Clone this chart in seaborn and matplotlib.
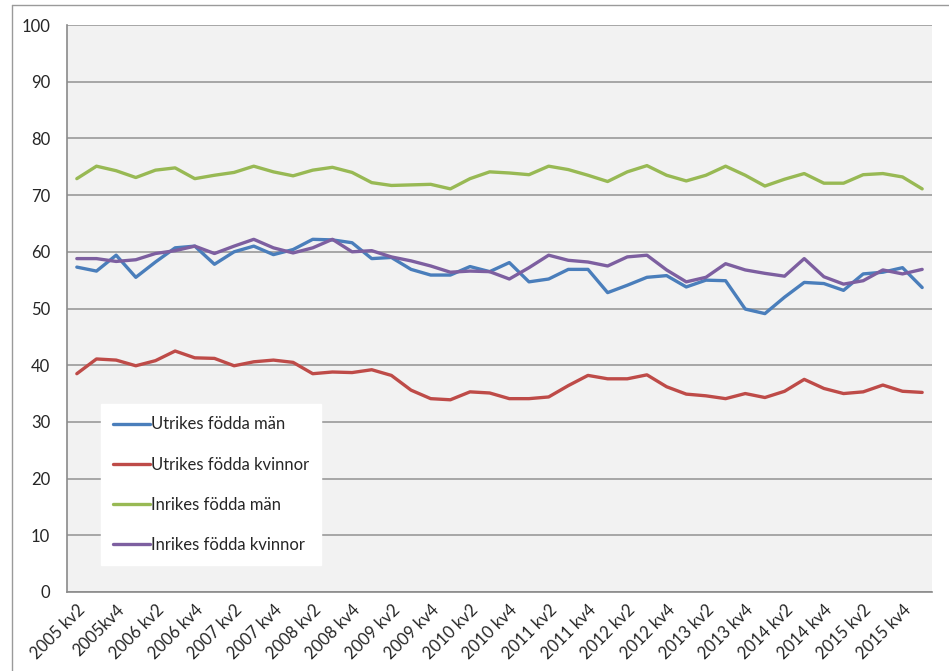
import pandas as pd
import numpy as np
import matplotlib
matplotlib.use('Agg')
import matplotlib.pyplot as plt
import matplotlib.lines as mlines
import seaborn as sns

# Quarters 2005 kv2 .. 2016 kv1 (44 points), label every second
quarters = [f'{y} kv{q}' for y in range(2005, 2017) for q in range(1, 5)][1:45]
tick_labels = ['2005 kv2', '2005kv4', '2006 kv2', '2006 kv4', '2007 kv2', '2007 kv4',
               '2008 kv2', '2008 kv4', '2009 kv2', '2009 kv4', '2010 kv2', '2010 kv4',
               '2011 kv2', '2011 kv4', '2012 kv2', '2012 kv4', '2013 kv2', '2013 kv4',
               '2014 kv2', '2014 kv4', '2015 kv2', '2015 kv4']

utrikes_man = [57.3, 56.6, 59.4, 55.5, 58.2, 60.7, 61.0, 57.8, 60.0, 61.0, 59.5,
               60.4, 62.2, 62.1, 61.6, 58.8, 59.0, 56.9, 55.9, 55.9, 57.4, 56.5,
               58.1, 54.7, 55.2, 56.9, 56.9, 52.8, 54.1, 55.5, 55.8, 53.8, 55.0,
               54.9, 49.9, 49.1, 52.0, 54.6, 54.4, 53.2, 56.1, 56.4, 57.2, 53.7]
utrikes_kvinnor = [38.5, 41.1, 40.9, 39.9, 40.8, 42.5, 41.3, 41.2, 39.9, 40.6, 40.9,
                   40.5, 38.5, 38.8, 38.7, 39.2, 38.2, 35.6, 34.1, 33.9, 35.3, 35.1,
                   34.1, 34.1, 34.4, 36.4, 38.2, 37.6, 37.6, 38.3, 36.2, 34.9, 34.6,
                   34.1, 35.0, 34.3, 35.4, 37.5, 35.9, 35.0, 35.3, 36.5, 35.4, 35.2]
inrikes_man = [72.9, 75.1, 74.3, 73.1, 74.4, 74.8, 72.9, 73.5, 74.0, 75.1, 74.1,
               73.4, 74.4, 74.9, 74.0, 72.2, 71.7, 71.8, 71.9, 71.1, 72.9, 74.1,
               73.9, 73.6, 75.1, 74.5, 73.5, 72.4, 74.1, 75.2, 73.5, 72.5, 73.5,
               75.1, 73.5, 71.6, 72.8, 73.8, 72.1, 72.1, 73.6, 73.8, 73.2, 71.1]
inrikes_kvinnor = [58.8, 58.8, 58.3, 58.6, 59.7, 60.2, 61.0, 59.7, 61.0, 62.2, 60.7,
                   59.8, 60.7, 62.2, 60.0, 60.2, 59.1, 58.4, 57.5, 56.4, 56.6, 56.5,
                   55.2, 57.2, 59.4, 58.5, 58.2, 57.5, 59.1, 59.4, 56.8, 54.7, 55.5,
                   57.9, 56.8, 56.2, 55.7, 58.8, 55.6, 54.3, 54.9, 56.8, 56.1, 56.9]

series = {
    'Utrikes födda män': utrikes_man,
    'Utrikes födda kvinnor': utrikes_kvinnor,
    'Inrikes födda män': inrikes_man,
    'Inrikes födda kvinnor': inrikes_kvinnor,
}
colors = ['#4A7EBB', '#BE4B48', '#98B954', '#7D5FA0']

rows = []
for name, vals in series.items():
    for i, v in enumerate(vals):
        rows.append({'idx': i, 'kvartal': quarters[i], 'serie': name, 'varde': v})
df = pd.DataFrame(rows)

sns.set_style('white')
plt.rcParams['font.family'] = ['Lato', 'DejaVu Sans']

fig = plt.figure(figsize=(9.49, 6.71), dpi=100)
ax = fig.add_axes([67 / 949, 79 / 671, 865 / 949, 567 / 671])
ax.set_facecolor('#F2F2F2')

sns.lineplot(data=df, x='idx', y='varde', hue='serie', palette=colors,
             linewidth=2.4, ax=ax, legend=False)

ax.set_xlim(-0.5, 43.5)
ax.set_ylim(0, 100)
ax.set_yticks(range(0, 101, 10))
ax.yaxis.grid(True, color='#9A9A9A', linewidth=1.2)
ax.set_axisbelow(True)
ax.set_xlabel('')
ax.set_ylabel('')

ax.set_xticks(range(0, 44, 2))
ax.set_xticklabels(tick_labels, rotation=45, ha='right', rotation_mode='anchor', fontsize=12)
ax.set_xticks(np.arange(-0.5, 44, 1), minor=True)
ax.tick_params(axis='x', which='major', length=0, pad=7)
ax.tick_params(axis='x', which='minor', length=4, color='#888888', width=1)
ax.tick_params(axis='y', length=5, color='#888888', labelsize=12, pad=7)

for s in ['top', 'right']:
    ax.spines[s].set_visible(False)
for s in ['left', 'bottom']:
    ax.spines[s].set_color('#8A8A8A')
    ax.spines[s].set_linewidth(1.2)

handles = [mlines.Line2D([], [], color=c, linewidth=2.4) for c in colors]
leg = ax.legend(handles, list(series.keys()), loc='lower left',
                bbox_to_anchor=(0.039, 0.047), frameon=True, fancybox=False,
                fontsize=12, labelspacing=1.45, handlelength=2.2,
                handletextpad=0.05, borderpad=0.75, borderaxespad=0)
leg.get_frame().set_facecolor('white')
leg.get_frame().set_edgecolor('white')
leg.get_frame().set_alpha(1)

# outer chart border (left and top only visible)
fig.add_artist(mlines.Line2D([12 / 949, 12 / 949], [0, 1 - 5 / 671],
                             transform=fig.transFigure, color='#9A9A9A', linewidth=1))
fig.add_artist(mlines.Line2D([12 / 949, 1], [1 - 5 / 671, 1 - 5 / 671],
                             transform=fig.transFigure, color='#9A9A9A', linewidth=1))

fig.savefig('out.png', dpi=100)
